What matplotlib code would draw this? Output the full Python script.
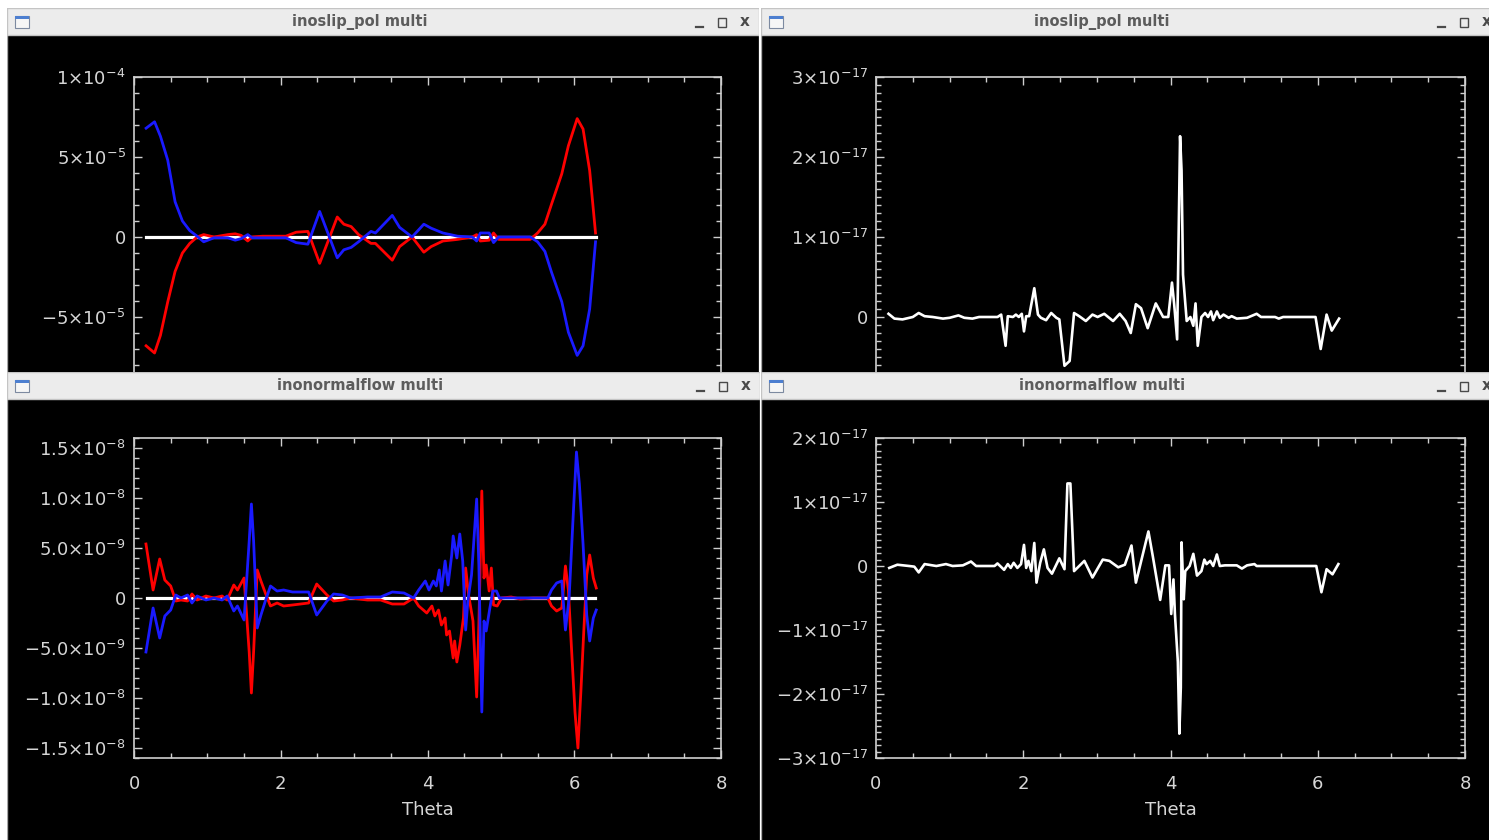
import matplotlib
matplotlib.use("Agg")
import matplotlib.pyplot as plt
from matplotlib.patches import Rectangle
from matplotlib.ticker import MultipleLocator, FixedLocator, FixedFormatter

# ---------------------------------------------------------------------------
# inoslip_pol : red / blue components in units of 1e-5, sum in units of 1e-18
# ---------------------------------------------------------------------------
slip_theta = [0.165, 0.28, 0.36, 0.46, 0.56, 0.66, 0.76, 0.86, 0.95, 1.09,
              1.28, 1.38, 1.46, 1.55, 1.61, 1.75, 1.9, 2.07, 2.21, 2.37,
              2.53, 2.77, 2.86, 2.96, 3.06, 3.23, 3.29, 3.52, 3.62, 3.79,
              3.95, 4.05, 4.21, 4.41, 4.61, 4.67, 4.72, 4.84, 4.90, 4.97,
              5.07, 5.25, 5.40, 5.50, 5.60, 5.69, 5.83, 5.92, 6.04, 6.12,
              6.21, 6.29]
slip_red = [-6.8, -7.25, -6.15, -4.05, -2.15, -1.0, -0.4, 0.0, 0.15, 0.0,
            0.15, 0.2, 0.1, -0.25, 0.0, 0.05, 0.05, 0.05, 0.3, 0.35,
            -1.65, 1.25, 0.8, 0.65, 0.15, -0.4, -0.4, -1.45, -0.6, 0.0,
            -0.95, -0.6, -0.25, -0.15, 0.0, 0.15, -0.25, -0.2, 0.25, -0.15,
            -0.15, -0.15, -0.15, 0.25, 0.8, 2.05, 3.95, 5.7, 7.4, 6.75,
            4.15, 0.25]
slip_blue = [6.8, 7.2, 6.3, 4.8, 2.2, 1.0, 0.4, 0.05, -0.3, -0.05,
             -0.05, -0.2, -0.1, 0.15, -0.05, -0.05, -0.05, -0.05, -0.35, -0.45,
             1.6, -1.3, -0.8, -0.65, -0.3, 0.35, 0.25, 1.35, 0.6, 0.0,
             0.8, 0.55, 0.25, 0.05, 0.0, -0.25, 0.25, 0.25, -0.35, 0.0,
             0.0, 0.0, 0.0, -0.3, -0.9, -2.2, -4.05, -5.95, -7.4, -6.8,
             -4.5, -0.3]
slip_sum_theta = [0.17, 0.25, 0.36, 0.50, 0.58, 0.66, 0.77, 0.91, 1.00, 1.12,
                  1.20, 1.31, 1.40, 1.65, 1.70, 1.76, 1.79, 1.86, 1.90, 1.94,
                  1.98, 2.01, 2.04, 2.08, 2.15, 2.20, 2.24, 2.31, 2.38, 2.45,
                  2.49, 2.56, 2.63, 2.69, 2.76, 2.85, 2.94, 3.01, 3.10, 3.22,
                  3.31, 3.39, 3.46, 3.53, 3.60, 3.69, 3.80, 3.90, 3.97, 4.02,
                  4.05, 4.09, 4.11, 4.13, 4.15, 4.17, 4.20, 4.22, 4.27, 4.31,
                  4.34, 4.37, 4.42, 4.47, 4.51, 4.55, 4.58, 4.63, 4.67, 4.72,
                  4.79, 4.83, 4.90, 5.04, 5.17, 5.23, 5.42, 5.47, 5.53, 5.97,
                  6.04, 6.12, 6.19, 6.29]
slip_sum = [0.4, -0.2, -0.3, 0.0, 0.5, 0.1, 0.0, -0.2, -0.1, 0.2,
            -0.1, -0.2, 0.0, 0.0, 0.3, -3.6, 0.1, 0.0, 0.3, 0.0,
            0.4, -1.8, 0.1, 0.1, 3.6, 0.3, -0.1, -0.4, 0.5, -0.1,
            -0.3, -6.1, -5.5, 0.5, 0.1, -0.5, 0.3, 0.0, 0.4, -0.5,
            0.4, -0.5, -2.0, 1.6, 1.1, -1.4, 1.7, 0.0, 0.0, 4.3,
            1.6, -2.8, 9.9, 22.6, 18.3, 5.3, 1.8, -0.5, 0.0, -1.1,
            1.7, -3.6, 0.0, 0.5, 0.0, 0.7, -0.4, 0.7, -0.1, 0.3,
            -0.1, 0.1, -0.2, -0.1, 0.4, 0.0, 0.0, -0.2, 0.0, 0.0,
            -4.0, 0.3, -1.7, -0.2]

# ---------------------------------------------------------------------------
# inonormalflow : red / blue components in units of 1e-9, sum in units of 1e-18
# ---------------------------------------------------------------------------
flow_red_theta = [0.163, 0.26, 0.35, 0.42, 0.50, 0.57, 0.64, 0.73, 0.79, 0.86,
                  0.98, 1.09, 1.20, 1.27, 1.36, 1.41, 1.50, 1.57, 1.60, 1.63,
                  1.68, 1.73, 1.79, 1.86, 1.95, 2.04, 2.16, 2.27, 2.38, 2.49,
                  2.63, 2.72, 2.84, 2.95, 3.18, 3.36, 3.52, 3.68, 3.81, 3.88,
                  3.99, 4.06, 4.10, 4.15, 4.19, 4.24, 4.26, 4.30, 4.35, 4.37,
                  4.40, 4.44, 4.49, 4.52, 4.56, 4.62, 4.67, 4.70, 4.74, 4.77,
                  4.80, 4.84, 4.87, 4.90, 4.95, 5.01, 5.14, 5.26, 5.44, 5.64,
                  5.69, 5.76, 5.83, 5.88, 5.92, 5.96, 6.01, 6.05, 6.09, 6.13,
                  6.17, 6.21, 6.26, 6.30]
flow_red = [5.4, 0.8, 3.9, 1.8, 1.2, -0.3, -0.2, -0.3, 0.4, -0.2,
            0.2, 0.0, 0.2, -0.2, 1.3, 0.8, 2.0, -5.4, -9.5, -5.4,
            2.8, 1.7, 0.5, -0.8, -0.5, -0.8, -0.7, -0.6, -0.5, 1.4,
            0.3, -0.3, -0.2, 0.0, -0.2, -0.2, -0.6, -0.6, 0.0, -0.8,
            -1.5, -0.8, -1.8, -1.2, -2.7, -2.0, -3.7, -3.3, -6.0, -4.3,
            -6.4, -4.7, -2.0, 3.0, 0.3, -2.3, -9.9, -2.7, 10.7, 2.0,
            3.3, 0.7, 3.0, -0.7, -0.8, 0.0, 0.1, -0.1, 0.0, 0.0,
            -0.8, -1.3, -1.0, 3.2, 0.8, -4.7, -11.4, -15.0, -9.4, -3.3,
            2.3, 4.3, 2.0, 1.0]
flow_blue_theta = [0.163, 0.26, 0.35, 0.42, 0.50, 0.57, 0.64, 0.73, 0.79, 0.86,
                   0.98, 1.09, 1.20, 1.27, 1.36, 1.41, 1.50, 1.57, 1.60, 1.63,
                   1.68, 1.73, 1.79, 1.86, 1.95, 2.04, 2.16, 2.27, 2.38, 2.49,
                   2.63, 2.72, 2.84, 2.95, 3.18, 3.36, 3.52, 3.68, 3.81, 3.88,
                   3.97, 4.02, 4.08, 4.12, 4.16, 4.19, 4.24, 4.28, 4.33, 4.35,
                   4.40, 4.44, 4.48, 4.52, 4.55, 4.60, 4.67, 4.70, 4.74, 4.77,
                   4.80, 4.85, 4.89, 4.94, 4.98, 5.64, 5.69, 5.76, 5.83, 5.88,
                   5.93, 5.98, 6.03, 6.07, 6.12, 6.17, 6.21, 6.26, 6.30]
flow_blue = [-5.4, -1.0, -4.0, -1.8, -1.2, 0.3, 0.0, 0.3, -0.5, 0.2,
             -0.2, 0.0, -0.2, 0.2, -1.3, -0.8, -2.2, 5.7, 9.4, 5.7,
             -3.0, -1.7, -0.3, 1.2, 0.7, 0.8, 0.6, 0.6, 0.6, -1.7,
             -0.3, 0.4, 0.3, 0.0, 0.1, 0.1, 0.6, 0.5, 0.0, 0.8,
             1.7, 0.8, 1.7, 1.2, 2.8, 0.7, 3.7, 1.3, 4.3, 6.2,
             4.0, 6.4, 3.7, -3.2, -0.3, 2.3, 9.9, 3.3, -11.4, -2.3,
             -3.3, -1.0, 0.7, 0.7, 0.0, 0.0, 0.8, 1.5, 1.7, -3.2,
             0.0, 7.4, 14.6, 11.4, 5.4, -1.7, -4.3, -2.0, -1.2]
flow_sum_theta = [0.18, 0.29, 0.45, 0.52, 0.58, 0.66, 0.82, 0.95, 1.04, 1.18,
                  1.29, 1.36, 1.61, 1.65, 1.74, 1.79, 1.83, 1.87, 1.92, 1.97,
                  2.01, 2.04, 2.07, 2.11, 2.15, 2.18, 2.23, 2.28, 2.33, 2.39,
                  2.49, 2.56, 2.60, 2.64, 2.69, 2.83, 2.94, 3.08, 3.17, 3.29,
                  3.38, 3.47, 3.53, 3.70, 3.76, 3.86, 3.93, 3.98, 4.01, 4.04,
                  4.06, 4.10, 4.12, 4.14, 4.15, 4.18, 4.20, 4.26, 4.31, 4.36,
                  4.42, 4.46, 4.49, 4.54, 4.58, 4.63, 4.67, 4.74, 4.90, 4.97,
                  5.04, 5.14, 5.17, 5.98, 6.05, 6.12, 6.20, 6.28]
flow_sum = [-0.3, 0.2, 0.0, -0.1, -1.0, 0.3, 0.0, 0.3, 0.0, 0.1,
            0.7, 0.0, 0.0, 0.4, -0.6, 0.3, -0.3, 0.5, -0.3, 0.3,
            3.3, -0.3, 0.8, -0.8, 3.6, -2.6, 0.5, 2.6, -0.3, -1.2,
            1.2, -0.5, 12.9, 12.9, -0.8, 0.8, -1.8, 1.0, 0.8, -0.2,
            0.2, 3.2, -2.6, 5.4, 1.5, -5.3, 0.1, 0.1, -7.5, -2.1,
            -7.5, -15.0, -26.2, -19.0, 3.7, -5.2, -0.8, 0.0, 1.9, -1.5,
            -0.8, 1.0, 0.3, 0.8, 0.0, 1.8, 0.0, 0.1, 0.1, -0.4,
            0.1, 0.3, 0.0, 0.0, -4.1, -0.5, -1.3, 0.3]

SLIP_UNIT, FLOW_UNIT, SUM_UNIT = 1e-5, 1e-9, 1e-18

# y-axis ticks (values, labels) per panel
slip_ticks = [-1e-4, -5e-5, 0, 5e-5, 1e-4]
slip_labels = [r"$-1{\times}10^{-4}$", r"$-5{\times}10^{-5}$", "0",
               r"$5{\times}10^{-5}$", r"$1{\times}10^{-4}$"]
slip_sum_ticks = [-1e-17, 0, 1e-17, 2e-17, 3e-17]
slip_sum_labels = [r"$-1{\times}10^{-17}$", "0", r"$1{\times}10^{-17}$",
                   r"$2{\times}10^{-17}$", r"$3{\times}10^{-17}$"]
flow_ticks = [-1.5e-8, -1e-8, -5e-9, 0, 5e-9, 1e-8, 1.5e-8]
flow_labels = [r"$-1.5{\times}10^{-8}$", r"$-1.0{\times}10^{-8}$", r"$-5.0{\times}10^{-9}$",
               "0", r"$5.0{\times}10^{-9}$", r"$1.0{\times}10^{-8}$", r"$1.5{\times}10^{-8}$"]
flow_sum_ticks = [-3e-17, -2e-17, -1e-17, 0, 1e-17, 2e-17]
flow_sum_labels = [r"$-3{\times}10^{-17}$", r"$-2{\times}10^{-17}$", r"$-1{\times}10^{-17}$",
                   "0", r"$1{\times}10^{-17}$", r"$2{\times}10^{-17}$"]

W, H = 1489, 840
fig = plt.figure(figsize=(W / 100, H / 100), dpi=100, facecolor="white")

AXC = "#cfcfcf"
TXC = "#d6d6d6"


def frac(x0, y0, x1, y1):
    return [x0 / W, 1 - y1 / H, (x1 - x0) / W, (y1 - y0) / H]


def draw_window(x0, y0, x1, title, title_x, z):
    y1 = H + 5
    wa = fig.add_axes(frac(x0, y0, x1, y1), zorder=z)
    wa.set_xlim(x0, x1)
    wa.set_ylim(y1, y0)
    wa.axis("off")
    wa.add_patch(Rectangle((x0, y0), x1 - x0, y1 - y0, fc="black", ec="#a8a8a8", lw=1.0))
    wa.add_patch(Rectangle((x0, y0), x1 - x0, 27, fc="#ececec", ec="#c4c4c4", lw=1.0))
    # window icon
    wa.add_patch(Rectangle((x0 + 8, y0 + 8), 14, 12, fc="#f6f6f6", ec="#7d8aa0", lw=0.8))
    wa.add_patch(Rectangle((x0 + 8, y0 + 8), 14, 3, fc="#4d7fd0", ec="none"))
    wa.text(title_x, y0 + 14, title, ha="center", va="center",
            fontsize=10.5, fontweight="bold", color="#5c5c5c")
    # minimise / maximise / close
    wa.plot([x1 - 63, x1 - 56], [y0 + 19, y0 + 19], color="#4a4a4a", lw=1.6)
    wa.add_patch(Rectangle((x1 - 41, y0 + 10), 8, 9, fc="none", ec="#4a4a4a", lw=1.0))
    wa.text(x1 - 14, y0 + 14, "x", ha="center", va="center",
            fontsize=11, fontweight="bold", color="#4a4a4a")


def plot_axes(x0, y0, x1, y1, z, yticks, ylabels, ylim, yminor):
    ax = fig.add_axes(frac(x0, y0, x1, y1), zorder=z)
    ax.set_facecolor("black")
    for s in ax.spines.values():
        s.set_color(AXC)
        s.set_linewidth(1.2)
    ax.set_xlim(0, 8)
    ax.set_ylim(*ylim)
    ax.xaxis.set_major_locator(MultipleLocator(2))
    ax.xaxis.set_minor_locator(MultipleLocator(0.5))
    ax.yaxis.set_major_locator(FixedLocator(yticks))
    ax.yaxis.set_major_formatter(FixedFormatter(ylabels))
    ax.yaxis.set_minor_locator(MultipleLocator(yminor))
    ax.tick_params(which="both", direction="in", top=True, right=True,
                   colors=AXC, labelcolor=TXC, labelsize=13, width=1)
    ax.tick_params(which="major", length=6, pad=6)
    ax.tick_params(axis="x", which="major", pad=12)
    ax.tick_params(which="minor", length=3.5)
    ax.set_xlabel("Theta", color=TXC, fontsize=13, labelpad=6)
    return ax


def scaled(vals, unit):
    return [v * unit for v in vals]


# top row (partially hidden behind the bottom windows)
draw_window(7, 8, 759, "inoslip_pol multi", 360, 0)
draw_window(761, 8, 1501, "inoslip_pol multi", 1102, 0)
ax = plot_axes(134, 77, 721, 397, 1, slip_ticks, slip_labels, (-1e-4, 1e-4), 1e-5)
ax.plot(slip_sum_theta, scaled(slip_sum, SUM_UNIT), color="white", lw=2.3)
ax.plot(slip_theta, scaled(slip_red, SLIP_UNIT), color="#ff0000", lw=2.0)
ax.plot(slip_theta, scaled(slip_blue, SLIP_UNIT), color="#1a1aff", lw=2.0)
ax = plot_axes(876, 77, 1465, 397, 1, slip_sum_ticks, slip_sum_labels, (-1e-17, 3e-17), 1e-18)
ax.plot(slip_sum_theta, scaled(slip_sum, SUM_UNIT), color="white", lw=1.9)

# bottom row
draw_window(7, 372, 760, "inonormalflow multi", 360, 2)
draw_window(761, 372, 1501, "inonormalflow multi", 1102, 2)
ax = plot_axes(134, 438, 721, 758, 3, flow_ticks, flow_labels, (-1.6e-8, 1.6e-8), 1e-9)
ax.plot(flow_sum_theta, scaled(flow_sum, SUM_UNIT), color="white", lw=2.3)
ax.plot(flow_red_theta, scaled(flow_red, FLOW_UNIT), color="#ff0000", lw=2.0)
ax.plot(flow_blue_theta, scaled(flow_blue, FLOW_UNIT), color="#1a1aff", lw=2.0)
ax = plot_axes(876, 438, 1465, 758, 3, flow_sum_ticks, flow_sum_labels, (-3e-17, 2e-17), 1e-18)
ax.plot(flow_sum_theta, scaled(flow_sum, SUM_UNIT), color="white", lw=1.9)

fig.savefig("out.png", dpi=100, facecolor=fig.get_facecolor())
